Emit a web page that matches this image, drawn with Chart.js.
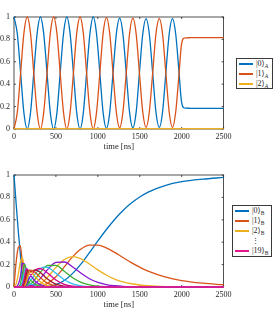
<!DOCTYPE html>
<html>
<head>
<meta charset="utf-8">
<script src="https://cdn.jsdelivr.net/npm/chart.js@4"></script>
<style>
  body { margin: 0; background: #fff; width: 280px; height: 316px; position: relative; overflow: hidden; }
  canvas { position: absolute; left: 0; }
  .lg { position: absolute; box-sizing: border-box; border: 1px solid #3a3a3a; background: #fff;
        font: 8px "Liberation Serif", "DejaVu Serif", serif; color: #262626; }
  .row { position: relative; height: 10px; line-height: 10px; white-space: nowrap; padding-left: 19px; }
  .ln { position: absolute; left: 2px; top: 4px; width: 14px; height: 1.5px; }
  sub { font-size: 5.5px; line-height: 0; vertical-align: -1.5px; }
</style>
</head>
<body>
<canvas id="chartA" width="280" height="158" style="top:0"></canvas>
<canvas id="chartB" width="280" height="158" style="top:158px"></canvas>

<div class="lg" style="left:236px; top:58px; width:37px; height:31px;">
  <div class="row"><span class="ln" style="background:#0072BD"></span>|0⟩<sub><i>A</i></sub></div>
  <div class="row"><span class="ln" style="background:#D95319"></span>|1⟩<sub><i>A</i></sub></div>
  <div class="row"><span class="ln" style="background:#EDB120"></span>|2⟩<sub><i>A</i></sub></div>
</div>
<div class="lg" style="left:232px; top:205px; width:40px; height:52px;">
  <div class="row"><span class="ln" style="background:#0072BD"></span>|0⟩<sub>B</sub></div>
  <div class="row"><span class="ln" style="background:#D95319"></span>|1⟩<sub>B</sub></div>
  <div class="row"><span class="ln" style="background:#EDB120"></span>|2⟩<sub>B</sub></div>
  <div class="row"><span style="font-family:'DejaVu Serif';font-size:7px">⋮</span></div>
  <div class="row"><span class="ln" style="background:#E4178F"></span>|19⟩<sub>B</sub></div>
</div>

<script>
// ---- top panel: qubit A populations ----
const tA = [0, 39, 79, 118, 158, 197, 236, 276, 315, 354, 394, 433, 473, 512, 551, 591,
  630, 669, 709, 748, 788, 827, 866, 906, 945, 984, 1024, 1063, 1103, 1142, 1181, 1221,
  1260, 1299, 1339, 1378, 1418, 1457, 1496, 1536, 1575, 1614, 1654, 1693, 1733, 1772, 1811, 1851,
  1890, 1929, 1969, 1995, 2010, 2025, 2050, 2100, 2500];
const p0A = [1, 0.854, 0.5, 0.146, 0, 0.146, 0.5, 0.854,
  1, 0.854, 0.5, 0.146, 0, 0.146, 0.5, 0.854,
  1, 0.854, 0.5, 0.146, 0, 0.146, 0.5, 0.854,
  1, 0.854, 0.5, 0.146, 0.005, 0.148, 0.5, 0.852,
  0.99, 0.85, 0.5, 0.15, 0.01, 0.15, 0.5, 0.85,
  0.985, 0.848, 0.5, 0.152, 0.015, 0.152, 0.5, 0.848,
  0.985, 0.846, 0.5, 0.26, 0.205, 0.19, 0.186, 0.185, 0.184];
const p1A = [0, 0.146, 0.5, 0.854, 1, 0.854, 0.5, 0.146,
  0, 0.146, 0.5, 0.854, 1, 0.854, 0.5, 0.146,
  0, 0.146, 0.5, 0.854, 1, 0.854, 0.5, 0.146,
  0, 0.146, 0.5, 0.854, 0.995, 0.852, 0.5, 0.148,
  0.01, 0.15, 0.5, 0.85, 0.99, 0.85, 0.5, 0.15,
  0.015, 0.152, 0.5, 0.848, 0.985, 0.848, 0.5, 0.152,
  0.015, 0.154, 0.5, 0.74, 0.795, 0.81, 0.814, 0.815, 0.816];
const tA2 = [0, 1000, 2000, 2500];
const p2A = [0.003, 0.003, 0.004, 0.004];

// ---- bottom panel: oscillator B level populations |0> .. |19> ----
const tB = [0, 25, 50, 75, 100, 125, 150, 175, 200, 250, 300, 350, 400, 500, 600, 700,
  800, 900, 1000, 1100, 1200, 1300, 1400, 1500, 1600, 1800, 2000, 2250, 2500];
const n0 = [1, 0.75, 0.508, 0.3, 0.079, 0.014, 0.001, 0, 0, 0, 0.001, 0.002, 0.005, 0.021, 0.058, 0.122,
  0.207, 0.307, 0.411, 0.511, 0.603, 0.683, 0.749, 0.803, 0.847, 0.905, 0.94, 0.963, 0.978];
const n1 = [0, 0.217, 0.35, 0.37, 0.215, 0.068, 0.009, 0.001, 0, 0.002, 0.006, 0.015, 0.032, 0.091, 0.179, 0.271,
  0.34, 0.374, 0.374, 0.349, 0.309, 0.263, 0.218, 0.177, 0.141, 0.09, 0.057, 0.034, 0.02];
const n2 = [0, 0.028, 0.109, 0.219, 0.262, 0.146, 0.034, 0.006, 0.003, 0.009, 0.025, 0.05, 0.087, 0.175, 0.246, 0.272,
  0.251, 0.205, 0.153, 0.107, 0.071, 0.046, 0.029, 0.018, 0.011, 0.004, 0.002, 0.001, 0];
const n3 = [0, 0.002, 0.022, 0.085, 0.21, 0.205, 0.082, 0.02, 0.011, 0.03, 0.064, 0.108, 0.155, 0.22, 0.223, 0.179,
  0.122, 0.074, 0.041, 0.022, 0.011, 0.005, 0.002, 0.001, 0.001, 0, 0, 0, 0];
const n4 = [0, 0, 0.003, 0.023, 0.117, 0.201, 0.137, 0.05, 0.031, 0.069, 0.117, 0.162, 0.192, 0.193, 0.141, 0.082,
  0.041, 0.019, 0.008, 0.003, 0.001, 0, 0, 0, 0, 0, 0, 0, 0];
const n5 = [0, 0, 0, 0.005, 0.048, 0.144, 0.169, 0.091, 0.065, 0.114, 0.157, 0.178, 0.175, 0.124, 0.065, 0.028,
  0.01, 0.003, 0.001, 0, 0, 0, 0, 0, 0, 0, 0, 0, 0];
const n6 = [0, 0, 0, 0.001, 0.015, 0.081, 0.163, 0.131, 0.106, 0.148, 0.165, 0.154, 0.125, 0.063, 0.024, 0.007,
  0.002, 0.001, 0, 0, 0, 0, 0, 0, 0, 0, 0, 0, 0];
const n7 = [0, 0, 0, 0, 0.004, 0.036, 0.125, 0.15, 0.138, 0.153, 0.138, 0.105, 0.071, 0.025, 0.007, 0.002,
  0, 0, 0, 0, 0, 0, 0, 0, 0, 0, 0, 0, 0];
const n8 = [0, 0, 0, 0, 0.001, 0.014, 0.08, 0.144, 0.15, 0.133, 0.096, 0.061, 0.034, 0.008, 0.002, 0,
  0, 0, 0, 0, 0, 0, 0, 0, 0, 0, 0, 0, 0];
const n9 = [0, 0, 0, 0, 0, 0.004, 0.042, 0.113, 0.133, 0.094, 0.055, 0.028, 0.013, 0.002, 0, 0,
  0, 0, 0, 0, 0, 0, 0, 0, 0, 0, 0, 0, 0];
const n10 = [0, 0, 0, 0, 0, 0.001, 0.018, 0.072, 0.096, 0.054, 0.026, 0.011, 0.004, 0, 0, 0,
  0, 0, 0, 0, 0, 0, 0, 0, 0, 0, 0, 0, 0];
const n11 = [0, 0, 0, 0, 0, 0, 0.006, 0.038, 0.057, 0.026, 0.01, 0.003, 0.001, 0, 0, 0,
  0, 0, 0, 0, 0, 0, 0, 0, 0, 0, 0, 0, 0];
const n12 = [0, 0, 0, 0, 0, 0, 0.002, 0.016, 0.027, 0.01, 0.003, 0.001, 0, 0, 0, 0,
  0, 0, 0, 0, 0, 0, 0, 0, 0, 0, 0, 0, 0];
const n13 = [0, 0, 0, 0, 0, 0, 0, 0.006, 0.011, 0.003, 0.001, 0, 0, 0, 0, 0,
  0, 0, 0, 0, 0, 0, 0, 0, 0, 0, 0, 0, 0];
const n14 = [0, 0, 0, 0, 0, 0, 0, 0.001, 0.003, 0.001, 0, 0, 0, 0, 0, 0,
  0, 0, 0, 0, 0, 0, 0, 0, 0, 0, 0, 0, 0];
const n15 = [0, 0, 0, 0, 0, 0, 0, 0, 0.001, 0, 0, 0, 0, 0, 0, 0,
  0, 0, 0, 0, 0, 0, 0, 0, 0, 0, 0, 0, 0];
const n16 = [0, 0, 0, 0, 0, 0, 0, 0, 0, 0, 0, 0, 0, 0, 0, 0, 0, 0, 0, 0, 0, 0, 0, 0, 0, 0, 0, 0, 0];
const n17 = [0, 0, 0, 0, 0, 0, 0, 0, 0, 0, 0, 0, 0, 0, 0, 0, 0, 0, 0, 0, 0, 0, 0, 0, 0, 0, 0, 0, 0];
const n18 = [0, 0, 0, 0, 0, 0, 0, 0, 0, 0, 0, 0, 0, 0, 0, 0, 0, 0, 0, 0, 0, 0, 0, 0, 0, 0, 0, 0, 0];
const n19 = [0, 0, 0, 0, 0, 0, 0, 0, 0, 0, 0, 0, 0, 0, 0, 0, 0, 0, 0, 0, 0, 0, 0, 0, 0, 0, 0, 0, 0];
const levelsB = [n0, n1, n2, n3, n4, n5, n6, n7, n8, n9, n10, n11, n12, n13, n14, n15, n16, n17, n18, n19];

const xTicks = [0, 500, 1000, 1500, 2000, 2500];
const yTicks = [0, 0.2, 0.4, 0.6, 0.8, 1];

const colorsA = ['#0072BD', '#D95319', '#EDB120'];
const colorsB = ['#0072BD', '#D95319', '#EDB120', '#8516D1', '#3BAA32', '#2FBEEF', '#D1048B',
  '#A2142F', '#D95319', '#EDB120', '#8516D1', '#3BAA32', '#2FBEEF', '#D1048B',
  '#A2142F', '#0072BD', '#D95319', '#EDB120', '#8516D1', '#E4178F'];

const axisColor = '#262626';
const font = { family: 'Liberation Serif', size: 8 };

// matlab-like box with inward ticks, drawn under the lines
const boxPlugin = {
  id: 'box',
  beforeDatasetsDraw(chart) {
    const { ctx, chartArea: a, scales: { x, y } } = chart;
    ctx.save();
    ctx.strokeStyle = axisColor;
    ctx.lineWidth = 0.8;
    ctx.strokeRect(a.left, a.top, a.right - a.left, a.bottom - a.top);
    ctx.beginPath();
    xTicks.forEach(v => {
      const px = x.getPixelForValue(v);
      ctx.moveTo(px, a.bottom); ctx.lineTo(px, a.bottom - 2);
      ctx.moveTo(px, a.top); ctx.lineTo(px, a.top + 2);
    });
    yTicks.forEach(v => {
      const py = y.getPixelForValue(v);
      ctx.moveTo(a.left, py); ctx.lineTo(a.left + 2, py);
      ctx.moveTo(a.right, py); ctx.lineTo(a.right - 2, py);
    });
    ctx.stroke();
    ctx.restore();
  }
};

function series(ts, vals, color, i, n) {
  return {
    data: ts.map((t, k) => ({ x: t, y: vals[k] })),
    borderColor: color,
    borderWidth: 1.3,
    pointRadius: 0,
    fill: false,
    cubicInterpolationMode: 'monotone',
    clip: 3,
    order: n - i // later series drawn on top, like matlab
  };
}

function makeChart(id, datasets) {
  return new Chart(document.getElementById(id), {
    type: 'line',
    data: { datasets },
    plugins: [boxPlugin],
    options: {
      responsive: false,
      animation: false,
      layout: { padding: { top: 17, right: 56.4, left: 0, bottom: 0 } },
      plugins: { legend: { display: false }, tooltip: { enabled: false } },
      scales: {
        x: {
          type: 'linear', min: 0, max: 2500,
          afterBuildTicks: s => { s.ticks = xTicks.map(v => ({ value: v })); },
          ticks: { padding: 3, color: axisColor, font, maxRotation: 0, callback: v => String(v) },
          grid: { display: false, drawTicks: false },
          border: { display: false },
          title: { display: true, text: 'time [ns]', color: axisColor, font: { family: 'Liberation Serif', size: 8.5 }, padding: { top: 0, bottom: 6 } },
          afterFit: s => { s.height = 29; }
        },
        y: {
          min: 0, max: 1,
          afterBuildTicks: s => { s.ticks = yTicks.map(v => ({ value: v })); },
          ticks: { padding: 4, color: axisColor, font, callback: v => String(v) },
          grid: { display: false, drawTicks: false },
          border: { display: false },
          afterFit: s => { s.width = 14; }
        }
      }
    }
  });
}

makeChart('chartA', [
  series(tA, p0A, colorsA[0], 0, 3),
  series(tA, p1A, colorsA[1], 1, 3),
  series(tA2, p2A, colorsA[2], 2, 3)
]);

makeChart('chartB', levelsB.map((vals, i) => series(tB, vals, colorsB[i], i, levelsB.length)));
</script>
</body>
</html>
